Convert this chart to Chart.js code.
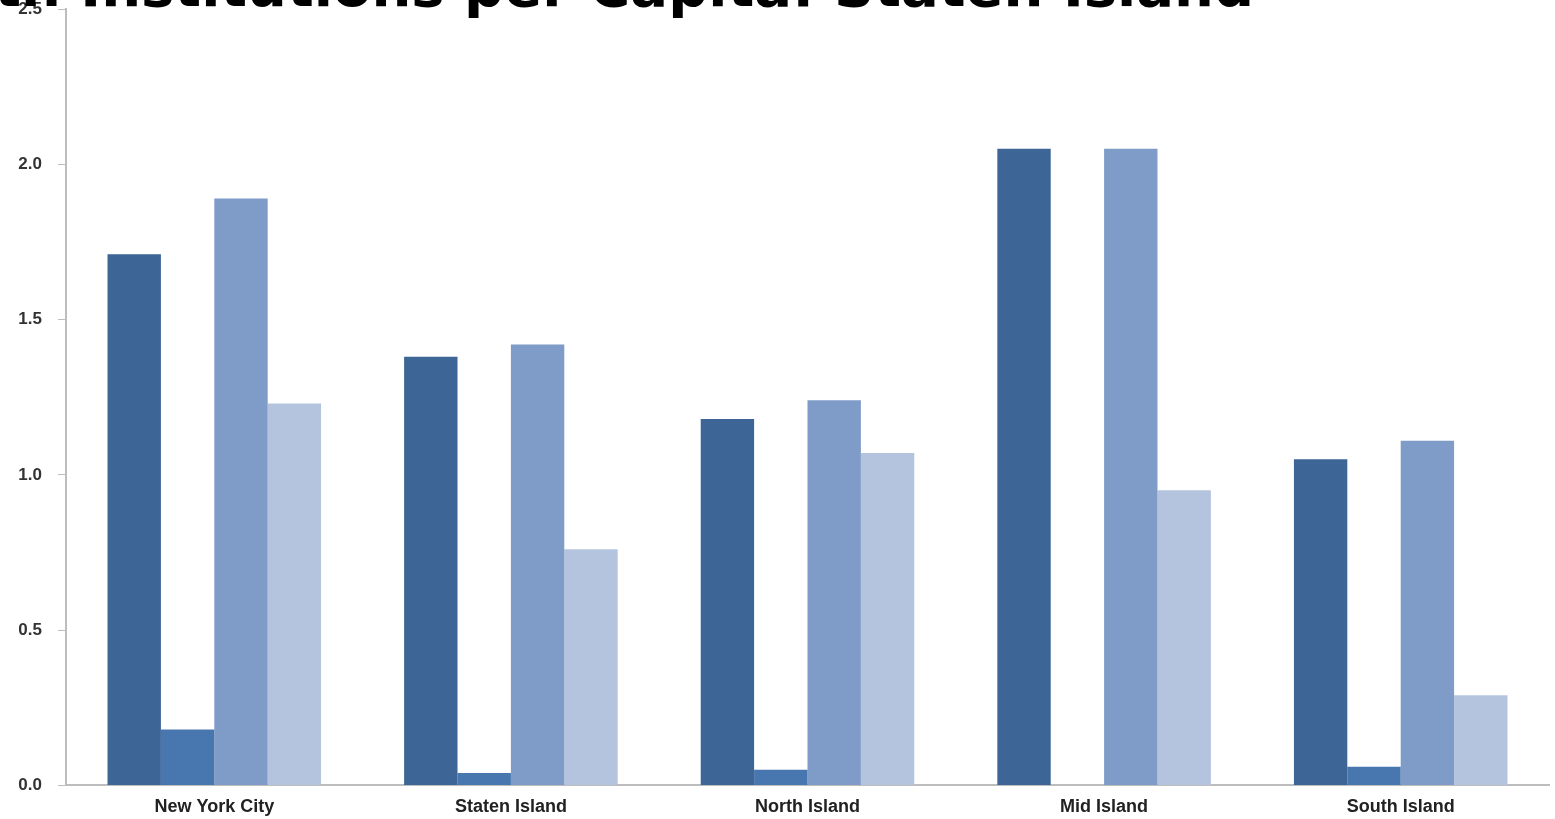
<!DOCTYPE html>
<html>
<head>
<meta charset="utf-8">
<script src="https://cdn.jsdelivr.net/npm/chart.js@4.4.0/dist/chart.umd.min.js"></script>
<style>
  html, body { margin: 0; padding: 0; background: #fff; overflow: hidden; }
  #wrap { position: relative; width: 1555px; height: 819px; }
</style>
</head>
<body>
<div id="wrap"><canvas id="bar-chart" width="1555" height="819"></canvas></div>
<script>
// categories + series
var areas = ["New York City", "Staten Island", "North Island", "Mid Island", "South Island"]
var series1 = [1.71, 1.38, 1.18, 2.05, 1.05]
var series2 = [0.18, 0.04, 0.05, 0.00, 0.06]
var series3 = [1.89, 1.42, 1.24, 2.05, 1.11]
var series4 = [1.23, 0.76, 1.07, 0.95, 0.29]
var yTicks = [0.0, 0.5, 1.0, 1.5, 2.0, 2.5]

var titleText = "Health Institutions per Capita: Staten Island"

// title sits half off the top of the image, like in the original screenshot
var titlePlugin = {
    id: 'cutTitle',
    afterDraw: function (chart) {
        var ctx = chart.ctx
        ctx.save()
        ctx.fillStyle = '#000'
        ctx.font = 'bold 56px "DejaVu Sans", Verdana, sans-serif'
        ctx.textAlign = 'right'
        ctx.textBaseline = 'alphabetic'
        ctx.fillText(titleText, 1254, 6)
        ctx.restore()
    }
}

new Chart(document.getElementById("bar-chart"), {
    type: 'bar',
    data: {
        labels: areas,
        datasets: [
            { label: "s1", backgroundColor: "#3d6596", data: series1 },
            { label: "s2", backgroundColor: "#4777ae", data: series2 },
            { label: "s3", backgroundColor: "#7f9cc8", data: series3 },
            { label: "s4", backgroundColor: "#b5c4de", data: series4 }
        ]
    },
    options: {
        responsive: false,
        animation: false,
        layout: { padding: { top: 9, right: 6, bottom: -10, left: 0 } },
        datasets: { bar: { categoryPercentage: 0.72, barPercentage: 1.0 } },
        plugins: {
            legend: { display: false },
            title: { display: false },
            tooltip: { enabled: false }
        },
        scales: {
            x: {
                grid: { drawOnChartArea: false, drawTicks: false },
                border: { color: '#bdbdbd', width: 2 },
                ticks: {
                    padding: 11,
                    color: '#222',
                    font: { family: '"Liberation Sans", sans-serif', size: 18, weight: '600' }
                }
            },
            y: {
                min: 0,
                max: 2.5,
                afterFit: function (scale) {
                    scale.width = 66
                    scale.paddingTop = 0   // let the 2.5 label tuck under the title
                },
                afterBuildTicks: function (scale) {
                    scale.ticks = yTicks.map(function (v) { return { value: v } })
                },
                grid: { drawOnChartArea: false, drawTicks: true, tickLength: 8, color: '#bdbdbd' },
                border: { color: '#bdbdbd', width: 2 },
                ticks: {
                    padding: 16,
                    color: '#333',
                    font: { family: '"Liberation Sans", sans-serif', size: 17, weight: '600' },
                    callback: function (v) { return Number(v).toFixed(1) }
                }
            }
        }
    },
    plugins: [titlePlugin]
});
</script>
</body>
</html>
